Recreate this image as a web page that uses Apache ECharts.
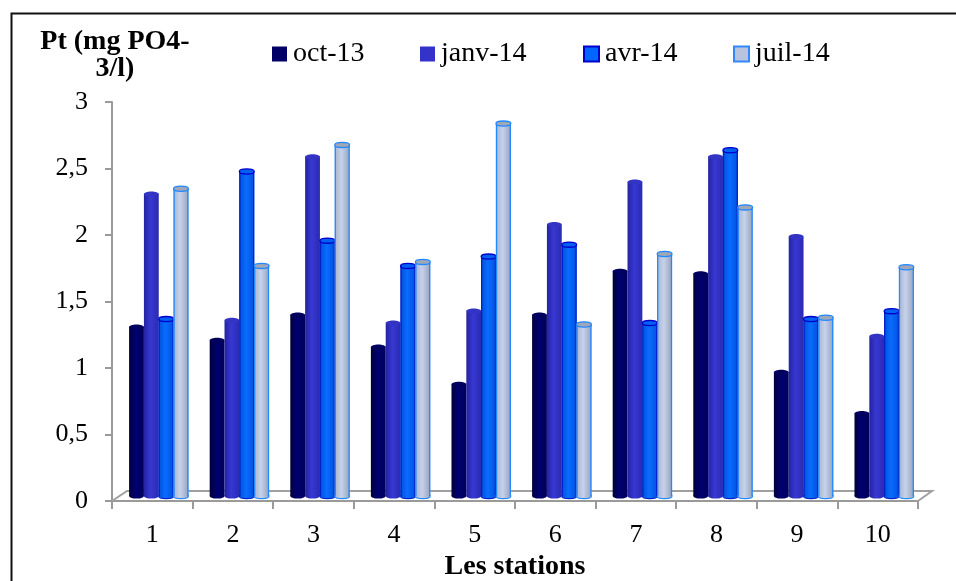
<!DOCTYPE html>
<html>
<head>
<meta charset="utf-8">
<script src="https://cdn.jsdelivr.net/npm/echarts@6/dist/echarts.min.js"></script>
<style>
html,body{margin:0;padding:0;background:#fff;}
#chart{width:956px;height:581px;}
</style>
</head>
<body>
<div id="chart"></div>
<script>
// ---- data ----
const stations = ['1','2','3','4','5','6','7','8','9','10'];
const seriesNames = ['oct-13','janv-14','avr-14','juil-14'];
const oct13  = [1.27, 1.17, 1.36, 1.12, 0.84, 1.36, 1.69, 1.67, 0.93, 0.62];
const janv14 = [2.27, 1.32, 2.55, 1.30, 1.39, 2.04, 2.36, 2.55, 1.95, 1.20];
const avr14  = [1.33, 2.44, 1.92, 1.73, 1.80, 1.89, 1.30, 2.60, 1.33, 1.39];
const juil14 = [2.31, 1.73, 2.64, 1.76, 2.80, 1.29, 1.82, 2.17, 1.34, 1.72];
const yMin = 0, yMax = 3, yStep = 0.5;
const yTitle = 'Pt (mg PO4-\n3/l)';
const xTitle = 'Les stations';

const FONT = '"Liberation Serif", "Times New Roman", serif';

const styles = [
  {base:'#000066', stops:['#00003a','#000070','#00005a'], top:'#00005e', topStroke:null, side:null},
  {base:'#3333CC', stops:['#2323a0','#3838d4','#2a2ab0'], top:'#3333c4', topStroke:null, side:null},
  {base:'#0066FF', stops:['#0050d8','#0a6cff','#0052dd'], top:'#0060f0', topStroke:'#0000CC', side:'#0022cc'},
  {base:'#C0CCE6', stops:['#a9b4cc','#c6d2ec','#97a2ba'], top:'#a0a8b8', topStroke:'#2288FF', side:'#2288FF'}
];

function cylinder(k){
  const st = styles[k];
  return function(params, api){
    const i = api.value(0), v = api.value(1);
    const band = api.size([1,0])[0];
    const w = band*0.184;
    const cx = api.coord([i,0])[0] + band*0.08 + (k-1.5)*w;
    const base = api.coord([i,0])[1] - 5;
    const top = api.coord([i,v])[1] - 5;
    const ry = 2.6;
    const grad = {type:'linear',x:0,y:0,x2:1,y2:0,colorStops:[
      {offset:0,color:st.stops[0]},{offset:0.45,color:st.stops[1]},{offset:1,color:st.stops[2]}]};
    const children = [
      {type:'ellipse', shape:{cx:cx, cy:base, rx:w/2, ry:ry},
       style:{fill:grad, stroke:st.side||null, lineWidth:1.2}},
      {type:'rect', shape:{x:cx-w/2, y:top, width:w, height:base-top},
       style:{fill:grad}}
    ];
    if (st.side){
      children.push({type:'line', shape:{x1:cx-w/2+0.5,y1:top,x2:cx-w/2+0.5,y2:base}, style:{stroke:st.side,lineWidth:1.3}});
      children.push({type:'line', shape:{x1:cx+w/2-0.5,y1:top,x2:cx+w/2-0.5,y2:base}, style:{stroke:st.side,lineWidth:1.3}});
    }
    children.push({type:'ellipse', shape:{cx:cx, cy:top, rx:w/2, ry:ry},
      style:{fill:st.top, stroke:st.topStroke, lineWidth:1.3}});
    return {type:'group', children:children};
  };
}

function floor(params, api){
  const band = api.size([1,0])[0];
  const left = api.coord([0,0])[0] - band/2;
  const right = api.coord([stations.length-1,0])[0] + band/2;
  const y0 = api.coord([0,0])[1];
  return {type:'polyline', shape:{points:[[left,y0],[left+15,y0-10],[right+14,y0-10],[right,y0]]},
    style:{stroke:'#a0a0a0', lineWidth:2, fill:null}, z2:0};
}

const seriesData = [oct13, janv14, avr14, juil14];
const series = [{
  type:'custom', name:'floor', renderItem:floor, data:[[0,0]], silent:true, z:1,
  encode:{x:0,y:1}
}];
seriesData.forEach((arr,k)=>{
  series.push({
    type:'custom', name:seriesNames[k], renderItem:cylinder(k), z:2,
    encode:{x:0,y:1},
    itemStyle:{color:styles[k].base},
    data:arr.map((v,i)=>[i,v])
  });
});

const legendLeft = [272, 420, 583, 733];
const legendItemStyle = [
  {color:'#000066'},
  {color:'#3333CC'},
  {color:'#0066FF', borderColor:'#0000CC', borderWidth:2},
  {color:'#B8C4DD', borderColor:'#3388FF', borderWidth:2}
];
const legends = seriesNames.map((n,k)=>({
  left:legendLeft[k], top:40, padding:0, itemWidth:15, itemHeight:15, icon:'rect', itemGap:0,
  data:[{name:n, itemStyle:legendItemStyle[k]}],
  textStyle:{fontFamily:FONT, fontSize:28, color:'#000', padding:[0,0,0,1]}
}));

const chart = echarts.init(document.getElementById('chart'));
chart.setOption({
  animation:false,
  backgroundColor:'#fff',
  legend:legends,
  grid:{left:112, right:38, top:102, bottom:80, containLabel:false, outerBoundsMode:'none'},
  xAxis:{
    type:'category', data:stations, boundaryGap:true,
    axisLine:{lineStyle:{color:'#9a9a9a', width:2}},
    axisTick:{show:true, length:8, lineStyle:{color:'#9a9a9a', width:2}},
    axisLabel:{fontFamily:FONT, fontSize:26, color:'#000', margin:21},
    name:xTitle, nameLocation:'middle', nameGap:45,
    nameTextStyle:{fontFamily:FONT, fontSize:28, fontWeight:'bold', color:'#000'}
  },
  yAxis:{
    type:'value', min:yMin, max:yMax, interval:yStep,
    splitLine:{show:false},
    axisLine:{show:true, lineStyle:{color:'#9a9a9a', width:2}},
    axisTick:{show:true, length:7, lineStyle:{color:'#9a9a9a', width:2}},
    axisLabel:{fontFamily:FONT, fontSize:26, color:'#000', margin:24,
      formatter:v=>String(v).replace('.',',')},
    name:yTitle, nameLocation:'end', nameGap:20,
    nameTextStyle:{fontFamily:FONT, fontSize:28, fontWeight:'bold', color:'#000',
      align:'center', verticalAlign:'bottom', lineHeight:27, padding:[0,0,0,6]}
  },
  graphic:[{type:'rect', left:9, top:11, shape:{width:1000,height:1000},
    style:{fill:null, stroke:'#111', lineWidth:2}, silent:true, z:-1}],
  series:series
});
</script>
</body>
</html>
